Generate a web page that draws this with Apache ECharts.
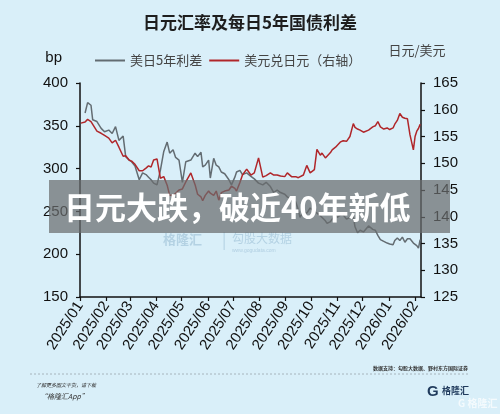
<!DOCTYPE html>
<html><head><meta charset="utf-8">
<script src="https://cdn.jsdelivr.net/npm/echarts@6/dist/echarts.min.js"></script>
<style>html,body{margin:0;padding:0;background:#d9eff9;}#c{width:500px;height:414px;}</style>
</head><body><div id="c"></div>
<script>
var dates = ['2025-01-02','2025-01-07','2025-01-10','2025-01-14','2025-01-16','2025-01-21','2025-01-26','2025-01-30','2025-02-04','2025-02-08','2025-02-12','2025-02-16','2025-02-21','2025-02-24','2025-02-28','2025-03-03','2025-03-07','2025-03-12','2025-03-16','2025-03-20','2025-03-23','2025-03-26','2025-03-29','2025-04-02','2025-04-06','2025-04-10','2025-04-14','2025-04-17','2025-04-21','2025-04-24','2025-04-28','2025-05-02','2025-05-06','2025-05-12','2025-05-17','2025-05-20','2025-05-24','2025-05-26','2025-05-29','2025-06-02','2025-06-04','2025-06-08','2025-06-11','2025-06-14','2025-06-17','2025-06-21','2025-06-26','2025-06-29','2025-07-03','2025-07-05','2025-07-09','2025-07-12','2025-07-17','2025-07-22','2025-07-26','2025-07-31','2025-08-05','2025-08-09','2025-08-14','2025-08-18','2025-08-22','2025-08-26','2025-08-31','2025-09-03','2025-09-08','2025-09-13','2025-09-16','2025-09-18','2025-09-22','2025-09-26','2025-09-30','2025-10-05','2025-10-08','2025-10-12','2025-10-14','2025-10-18','2025-10-20','2025-10-24','2025-10-26','2025-10-30','2025-11-01','2025-11-05','2025-11-08','2025-11-12','2025-11-16','2025-11-20','2025-11-22','2025-11-25','2025-11-28','2025-12-02','2025-12-04','2025-12-08','2025-12-10','2025-12-13','2025-12-16','2025-12-19','2025-12-22','2025-12-26','2025-12-30','2026-01-02','2026-01-06','2026-01-08','2026-01-11','2026-01-14','2026-01-17','2026-01-20','2026-01-23','2026-01-26','2026-01-30','2026-02-01','2026-02-03','2026-02-05','2026-02-07'];
var spread = [null,365,377,374,357,355,347,343,345,341,349,333,338,314,310,308,303,287,295,293,290,287,283,281,298,320,331,318,322,313,310,284,308,310,318,314,319,302,304,310,289,312,304,302,296,294,287,281,290,296,298,293,295,291,288,283,281,284,279,272,275,272,270,267,264,261,252,243,250,248,254,250,248,245,243,239,236,238,241,246,243,246,246,241,243,244,232,225,228,226,228,233,232,229,228,222,217,215,213,212,211,216,219,216,220,214,218,218,213,214,210,207,217];
var usdjpy = [157.5,157.7,158.2,157.8,157.5,156.0,155.6,155.2,154.7,153.8,154.3,153.0,151.3,151.4,150.6,150.4,149.8,148.6,148.6,149.1,149.5,149.3,150.6,150.8,147.2,147.5,145.9,144.0,144.0,144.4,145.0,145.2,146.5,148.2,146.0,144.2,143.7,143.0,144.0,144.8,144.4,144.0,144.8,143.1,144.5,144.8,145.0,145.7,145.3,144.8,146.4,147.8,148.9,147.8,148.2,151.0,147.4,147.7,148.2,147.8,147.8,147.6,147.5,148.2,147.5,147.5,147.3,147.2,147.8,149.6,148.2,148.8,152.6,151.5,151.9,151.0,151.0,152.0,152.5,153.0,152.7,154.0,154.2,154.1,155.0,157.4,156.7,156.4,156.2,155.8,155.7,156.2,155.9,156.8,157.0,157.8,156.8,156.4,156.6,156.3,156.6,157.3,158.0,159.3,158.6,158.4,158.3,155.3,152.5,155.0,156.0,156.5,157.3];
var seriesNames = ['美日5年利差', '美元兑日元（右轴）'];
var title = '日元汇率及每日5年国债利差';
var banner = '日元大跌，破近40年新低';

var chart = echarts.init(document.getElementById('c'), null, {renderer: 'canvas'});
var pair = function (vals) { return dates.map(function (d, i) { return [d, vals[i]]; }); };
var axisFont = 'Liberation Sans, Arial, sans-serif';
var cjk = '"Noto Sans CJK SC", sans-serif';
chart.setOption({
  backgroundColor: '#d9eff9',
  animation: false,
  title: {text: title, left: 'center', top: 9, textStyle: {fontFamily: cjk, fontSize: 17, fontWeight: 'bold', color: '#1e1e1e'}},
  legend: {
    left: 90, top: 49, itemWidth: 30, itemHeight: 2, itemGap: 7, icon: 'rect',
    textStyle: {fontFamily: cjk, fontSize: 13, color: '#444', padding: [0, 0, 0, 0]},
    data: seriesNames
  },
  grid: {left: 80, right: 79, top: 83, bottom: 117},
  xAxis: {
    type: 'time', min: '2025-01-01', max: '2026-02-08',
    splitNumber: 14, minInterval: 28 * 86400000, maxInterval: 31 * 86400000,
    axisLine: {lineStyle: {color: '#111', width: 1.5}},
    axisTick: {show: true, length: 4, lineStyle: {color: '#111', width: 1.2}},
    splitLine: {show: false},
    axisLabel: {formatter: '{yyyy}/{MM}', rotate: 57, fontSize: 15, color: '#111', fontFamily: axisFont, margin: 6, hideOverlap: false}
  },
  yAxis: [
    {type: 'value', min: 150, max: 400, interval: 50, name: 'bp', nameLocation: 'end', nameGap: 18,
     nameTextStyle: {fontFamily: axisFont, fontSize: 15, color: '#111', align: 'right', padding: [0, 18, 0, 0]},
     axisLine: {show: true, lineStyle: {color: '#111', width: 1.5}},
     axisTick: {show: true, length: 4, lineStyle: {color: '#111', width: 1.2}},
     splitLine: {show: false},
     axisLabel: {fontSize: 15, color: '#111', fontFamily: axisFont, margin: 12}},
    {type: 'value', min: 125, max: 165, interval: 5, position: 'right', name: '日元/美元', nameLocation: 'end', nameGap: 26,
     nameTextStyle: {fontFamily: cjk, fontSize: 13, color: '#444', align: 'center', padding: [0, 0, 0, -8]},
     axisLine: {show: true, lineStyle: {color: '#111', width: 1.5}},
     axisTick: {show: true, length: 4, lineStyle: {color: '#111', width: 1.2}},
     splitLine: {show: false},
     axisLabel: {fontSize: 15, color: '#111', fontFamily: axisFont, margin: 12}}
  ],
  series: [
    {name: seriesNames[0], type: 'line', yAxisIndex: 0, data: pair(spread), showSymbol: false, connectNulls: false,
     lineStyle: {color: '#636c72', width: 1.5}, itemStyle: {color: '#636c72'}},
    {name: seriesNames[1], type: 'line', yAxisIndex: 1, data: pair(usdjpy), showSymbol: false,
     lineStyle: {color: '#b0262a', width: 1.5}, itemStyle: {color: '#b0262a'}}
  ],
  graphic: [
    {type: 'text', left: 163, top: 233, z: 1, style: {text: '格隆汇', font: 'bold 13px "Noto Sans CJK SC"', fill: 'rgba(150,185,210,0.55)'}},
    {type: 'text', left: 222, top: 231, z: 1, style: {text: '|', font: '16px "Noto Sans CJK SC"', fill: 'rgba(150,185,210,0.55)'}},
    {type: 'text', left: 232, top: 232, z: 1, style: {text: '勾股大数据', font: '12px "Noto Sans CJK SC"', fill: 'rgba(150,185,210,0.55)'}},
    {type: 'text', left: 232, top: 248, z: 1, style: {text: 'www.gogudata.com', font: '5px Liberation Sans', fill: 'rgba(150,185,210,0.6)'}},
    {type: 'rect', shape: {x: 49, y: 180, width: 401, height: 53}, z: 100, style: {fill: 'rgba(105,108,110,0.72)'}},
    {type: 'text', x: 64, y: 207, z: 101, style: {text: banner, font: 'bold 31px "Noto Sans CJK SC"', fill: '#ffffff', textVerticalAlign: 'middle'}},
    {type: 'line', z: 5, shape: {x1: 30, y1: 374, x2: 470, y2: 374}, style: {stroke: '#9aa6ad', lineWidth: 0.8, lineDash: [2, 2]}},
    {type: 'text', right: 32, top: 366, z: 5, style: {text: '数据支持：勾股大数据、野村东方国际证券', font: 'bold 5px "Noto Sans CJK SC"', fill: '#333'}},
    {type: 'text', left: 36, top: 383, z: 5, style: {text: '了解更多图文干货，请下载', font: 'italic 5px "Noto Sans CJK SC"', fill: '#333'}},
    {type: 'text', left: 40, top: 393, z: 5, style: {text: '“格隆汇App”', font: 'italic 7px "Noto Sans CJK SC"', fill: '#333'}},
    {type: 'text', left: 427, top: 384, z: 5, style: {text: 'G', font: 'bold 15px Liberation Sans', fill: '#1f3a5c'}},
    {type: 'text', left: 442, top: 386, z: 5, style: {text: '格隆汇', font: 'bold 9px "Noto Sans CJK SC"', fill: '#1f3a5c'}},
    {type: 'text', left: 458, top: 398, z: 5, style: {text: 'G 格隆汇', font: 'bold 10px "Noto Sans CJK SC"', fill: 'rgba(255,255,255,0.7)'}}
  ]
});
</script>
</body></html>
